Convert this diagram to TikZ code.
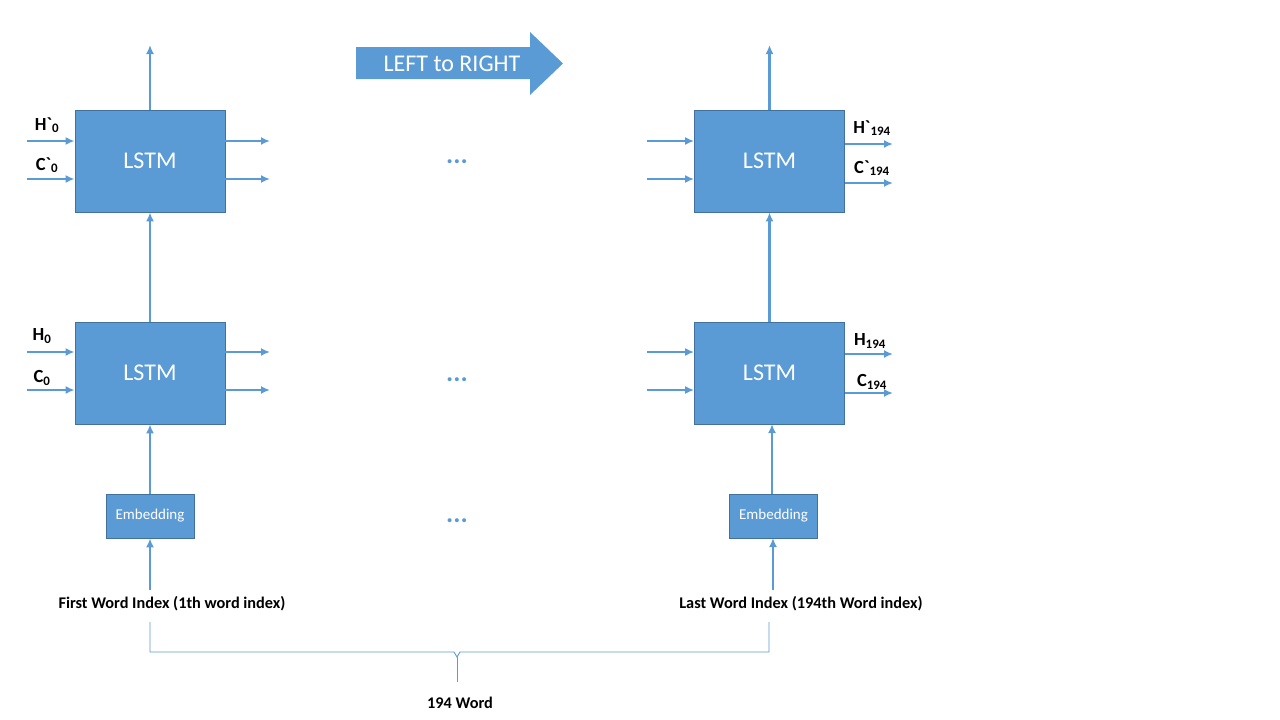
\documentclass[tikz,border=0pt]{standalone}
\usepackage{fontspec}
\setmainfont{Carlito}
\usetikzlibrary{arrows.meta}
\definecolor{lstmblue}{HTML}{5B9BD5}
\definecolor{lstmedge}{HTML}{41719C}

\begin{document}
\begin{tikzpicture}[x=1pt, y=-1pt,
  flow/.style={draw=lstmblue, line width=2.4pt, -{Latex[length=9pt, width=8pt]}},
  cell/.style={draw=lstmedge, fill=lstmblue, line width=0.8pt, inner sep=0pt,
    minimum width=150pt, minimum height=102pt, text=white, font=\fontsize{24}{28}\selectfont},
  embed/.style={cell, minimum width=88pt, minimum height=44pt, font=\fontsize{15}{18}\selectfont},
  lbl/.style={font=\bfseries\fontsize{18.5}{21}\selectfont},
  word/.style={font=\bfseries\fontsize{16.3}{19}\selectfont},
  dots/.style={text=lstmblue, font=\bfseries\fontsize{27}{27}\selectfont}]

\newcommand{\gr}{\textasciigrave}
\newcommand{\sub}[1]{\textsubscript{#1}}

\useasboundingbox (0,0) rectangle (1280,720);

% cells, first word
\node[cell] (lstmTL) at (150,161) {LSTM};
\node[cell] (lstmBL) at (150,373) {LSTM};
\node[embed] (embL) at (150,516) {Embedding};

% cells, last word
\node[cell] (lstmTR) at (769.5,161) {LSTM};
\node[cell] (lstmBR) at (769.5,373) {LSTM};
\node[embed] (embR) at (773.5,516) {Embedding};

% word index
\node[word] (wordL) at (172,604) {First Word Index (1th word index)};
\node[word] (wordR) at (801,604) {Last Word Index (194th Word index)};

% vertical flow, left
\coordinate (outL) at (150,45);
\draw[flow] (150,590) -- (embL.south);
\draw[flow] (embL.north) -- (lstmBL.south);
\draw[flow] (lstmBL.north) -- (lstmTL.south);
\draw[flow] (lstmTL.north) -- (outL);

% vertical flow, right
\coordinate (outR) at (769.5,45);
\draw[flow] (773,590) -- (773,538);
\draw[flow] (772,494) -- (772,424);
\draw[flow] (lstmBR.north) -- (lstmTR.south);
\draw[flow] (lstmTR.north) -- (outR);

% states into the first cells
\foreach \cellname/\ya/\yb in {lstmTL/141/179, lstmBL/352/390}{
  \draw[flow] (27,\ya) -- (\cellname.west |- 0,\ya);
  \draw[flow] (27,\yb) -- (\cellname.west |- 0,\yb);
  \draw[flow] (\cellname.east |- 0,\ya) -- (270,\ya);
  \draw[flow] (\cellname.east |- 0,\yb) -- (270,\yb);
}
\node[lbl] (hTL) at (47,125) {H\gr\sub{0}};
\node[lbl] (cTL) at (47,165) {C\gr\sub{0}};
\node[lbl] (hBL) at (42,336) {H\sub{0}};
\node[lbl] (cBL) at (42,378) {C\sub{0}};

% states out of the last cells
\foreach \cellname/\ya/\yb/\yc/\yd in {lstmTR/141/179/144/183, lstmBR/352/390/354/393}{
  \draw[flow] (647,\ya) -- (\cellname.west |- 0,\ya);
  \draw[flow] (647,\yb) -- (\cellname.west |- 0,\yb);
  \draw[flow] (\cellname.east |- 0,\yc) -- (893,\yc);
  \draw[flow] (\cellname.east |- 0,\yd) -- (893,\yd);
}
\node[lbl] (hTR) at (872,128) {H\gr\sub{194}};
\node[lbl] (cTR) at (872,168) {C\gr\sub{194}};
\node[lbl] (hBR) at (870,341) {H\sub{194}};
\node[lbl] (cBR) at (872,382) {C\sub{194}};

% gaps
\node[dots] (dotsT) at (457,162) {...};
\node[dots] (dotsB) at (457,380) {...};
\node[dots] (dotsE) at (457,521) {...};

% direction
\fill[lstmblue] (356,47) -- (530,47) -- (530,32) -- (563,63.5) -- (530,95) -- (530,79) -- (356,79) -- cycle;
\node[text=white, font=\fontsize{24}{28}\selectfont] (dir) at (452,63.5) {LEFT to RIGHT};

% brace
\draw[lstmblue, line width=0.9pt] (150,622) |- (454,652) -- (457,657) -- (460,652) -| (769,622);
\draw[lstmblue, line width=0.9pt] (457,657) -- (457,682);
\node[word] (total) at (460,703) {194 Word};

\end{tikzpicture}
\end{document}
